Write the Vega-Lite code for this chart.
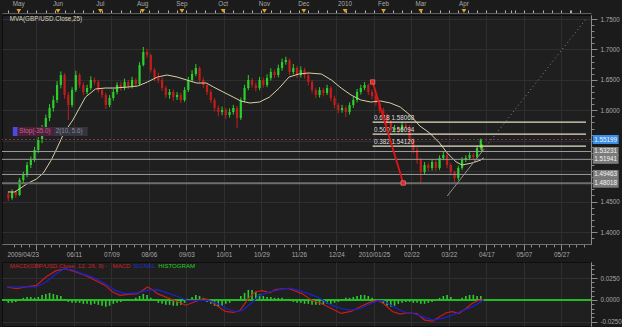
{
"$schema":"https://vega.github.io/schema/vega-lite/v6.json",
"background":"#1b1b1b",
"padding":0,
"spacing":3,
"resolve":{"scale":{"color":"independent"}},
"config":{
 "view":{"stroke":"#0d0d0d","fill":"#1f1f1f"},
 "axis":{"labelFont":"Liberation Sans","labelFontSize":6.3,"labelColor":"#a8a8a8","domainColor":"#7d7d7d","tickColor":"#8d8d8d","gridColor":"#2f2f2f","labelFlush":false,"tickCount":1000},
 "text":{"font":"Liberation Sans","fontSize":6.3}
},
"datasets":{
"candles":[
{"i":-15,"o":1.4620,"h":1.4665,"l":1.4510,"c":1.4559,"g":-0.0034},
{"i":-13,"o":1.4559,"h":1.4700,"l":1.4530,"c":1.4658,"g":-0.0034},
{"i":-11,"o":1.4658,"h":1.4690,"l":1.4560,"c":1.4608,"g":-0.0023},
{"i":-9,"o":1.4608,"h":1.4890,"l":1.4590,"c":1.4855,"g":0.0011},
{"i":-7,"o":1.4855,"h":1.4990,"l":1.4800,"c":1.4937,"g":0.0023},
{"i":-5,"o":1.4937,"h":1.5150,"l":1.4900,"c":1.5101,"g":0.0034},
{"i":-3,"o":1.5101,"h":1.5240,"l":1.5050,"c":1.5183,"g":0.0034},
{"i":-1,"o":1.5183,"h":1.5400,"l":1.5150,"c":1.5348,"g":0.0023},
{"i":1,"o":1.5348,"h":1.5560,"l":1.5300,"c":1.5512,"g":0.0034},
{"i":3,"o":1.5512,"h":1.5760,"l":1.5460,"c":1.5709,"g":0.0057},
{"i":5,"o":1.5709,"h":1.5930,"l":1.5650,"c":1.5873,"g":0.0068},
{"i":7,"o":1.5873,"h":1.6100,"l":1.5820,"c":1.6038,"g":0.0080},
{"i":9,"o":1.6038,"h":1.6240,"l":1.5980,"c":1.6169,"g":0.0068},
{"i":11,"o":1.6169,"h":1.6480,"l":1.6120,"c":1.6416,"g":0.0057},
{"i":13,"o":1.6416,"h":1.6640,"l":1.6360,"c":1.6580,"g":0.0045},
{"i":15,"o":1.6580,"h":1.6610,"l":1.6190,"c":1.6251,"g":0.0011},
{"i":17,"o":1.6251,"h":1.6300,"l":1.5840,"c":1.6087,"g":-0.0023},
{"i":19,"o":1.6087,"h":1.6380,"l":1.6050,"c":1.6333,"g":-0.0034},
{"i":21,"o":1.6333,"h":1.6650,"l":1.6300,"c":1.6580,"g":-0.0034},
{"i":23,"o":1.6580,"h":1.6610,"l":1.6370,"c":1.6416,"g":-0.0034},
{"i":25,"o":1.6416,"h":1.6460,"l":1.6250,"c":1.6301,"g":-0.0045},
{"i":27,"o":1.6301,"h":1.6420,"l":1.6260,"c":1.6366,"g":-0.0045},
{"i":29,"o":1.6366,"h":1.6560,"l":1.6330,"c":1.6498,"g":-0.0057},
{"i":31,"o":1.6498,"h":1.6540,"l":1.6420,"c":1.6465,"g":-0.0045},
{"i":33,"o":1.6465,"h":1.6500,"l":1.6290,"c":1.6333,"g":-0.0057},
{"i":35,"o":1.6333,"h":1.6370,"l":1.6200,"c":1.6251,"g":-0.0068},
{"i":37,"o":1.6251,"h":1.6290,"l":1.6020,"c":1.6087,"g":-0.0080},
{"i":39,"o":1.6087,"h":1.6250,"l":1.6050,"c":1.6202,"g":-0.0068},
{"i":41,"o":1.6202,"h":1.6350,"l":1.6160,"c":1.6301,"g":-0.0045},
{"i":43,"o":1.6301,"h":1.6460,"l":1.6260,"c":1.6416,"g":-0.0034},
{"i":45,"o":1.6416,"h":1.6470,"l":1.6320,"c":1.6366,"g":-0.0023},
{"i":47,"o":1.6366,"h":1.6520,"l":1.6330,"c":1.6465,"g":-0.0011},
{"i":49,"o":1.6465,"h":1.6500,"l":1.6350,"c":1.6399,"g":-0.0011},
{"i":51,"o":1.6399,"h":1.6550,"l":1.6360,"c":1.6498,"g":0.0006},
{"i":53,"o":1.6498,"h":1.6530,"l":1.6390,"c":1.6432,"g":0.0023},
{"i":55,"o":1.6432,"h":1.6790,"l":1.6410,"c":1.6744,"g":0.0045},
{"i":57,"o":1.6744,"h":1.7040,"l":1.6720,"c":1.6958,"g":0.0068},
{"i":59,"o":1.6958,"h":1.7010,"l":1.6860,"c":1.6908,"g":0.0057},
{"i":61,"o":1.6908,"h":1.6930,"l":1.6620,"c":1.6662,"g":0.0023},
{"i":63,"o":1.6662,"h":1.6700,"l":1.6480,"c":1.6531,"g":-0.0011},
{"i":65,"o":1.6531,"h":1.6620,"l":1.6450,"c":1.6498,"g":-0.0034},
{"i":67,"o":1.6498,"h":1.6540,"l":1.6320,"c":1.6366,"g":-0.0045},
{"i":69,"o":1.6366,"h":1.6400,"l":1.6200,"c":1.6251,"g":-0.0057},
{"i":71,"o":1.6251,"h":1.6350,"l":1.6190,"c":1.6301,"g":-0.0057},
{"i":73,"o":1.6301,"h":1.6340,"l":1.6150,"c":1.6218,"g":-0.0068},
{"i":75,"o":1.6218,"h":1.6300,"l":1.6170,"c":1.6251,"g":-0.0068},
{"i":77,"o":1.6251,"h":1.6290,"l":1.6120,"c":1.6169,"g":-0.0057},
{"i":79,"o":1.6169,"h":1.6380,"l":1.6140,"c":1.6333,"g":-0.0034},
{"i":81,"o":1.6333,"h":1.6550,"l":1.6300,"c":1.6498,"g":0.0011},
{"i":83,"o":1.6498,"h":1.6660,"l":1.6460,"c":1.6596,"g":0.0034},
{"i":85,"o":1.6596,"h":1.6760,"l":1.6560,"c":1.6695,"g":0.0057},
{"i":87,"o":1.6695,"h":1.6720,"l":1.6460,"c":1.6498,"g":0.0045},
{"i":89,"o":1.6498,"h":1.6540,"l":1.6370,"c":1.6416,"g":0.0023},
{"i":91,"o":1.6416,"h":1.6450,"l":1.6250,"c":1.6301,"g":-0.0023},
{"i":93,"o":1.6301,"h":1.6340,"l":1.6120,"c":1.6169,"g":-0.0045},
{"i":95,"o":1.6169,"h":1.6200,"l":1.5980,"c":1.6038,"g":-0.0068},
{"i":97,"o":1.6038,"h":1.6080,"l":1.5900,"c":1.5972,"g":-0.0080},
{"i":99,"o":1.5972,"h":1.6060,"l":1.5920,"c":1.6005,"g":-0.0068},
{"i":101,"o":1.6005,"h":1.6040,"l":1.5860,"c":1.5923,"g":-0.0045},
{"i":103,"o":1.5923,"h":1.6030,"l":1.5880,"c":1.5972,"g":-0.0034},
{"i":105,"o":1.5972,"h":1.6090,"l":1.5930,"c":1.6038,"g":-0.0011},
{"i":107,"o":1.6038,"h":1.6070,"l":1.5710,"c":1.5873,"g":0.0011},
{"i":109,"o":1.5873,"h":1.6210,"l":1.5840,"c":1.6169,"g":0.0045},
{"i":111,"o":1.6169,"h":1.6420,"l":1.6130,"c":1.6366,"g":0.0080},
{"i":113,"o":1.6366,"h":1.6580,"l":1.6330,"c":1.6498,"g":0.0114},
{"i":115,"o":1.6498,"h":1.6530,"l":1.6370,"c":1.6416,"g":0.0114},
{"i":117,"o":1.6416,"h":1.6460,"l":1.6310,"c":1.6366,"g":0.0091},
{"i":119,"o":1.6366,"h":1.6550,"l":1.6330,"c":1.6498,"g":0.0068},
{"i":121,"o":1.6498,"h":1.6540,"l":1.6370,"c":1.6416,"g":0.0045},
{"i":123,"o":1.6416,"h":1.6590,"l":1.6380,"c":1.6531,"g":0.0034},
{"i":125,"o":1.6531,"h":1.6690,"l":1.6490,"c":1.6629,"g":0.0034},
{"i":127,"o":1.6629,"h":1.6670,"l":1.6530,"c":1.6580,"g":0.0023},
{"i":129,"o":1.6580,"h":1.6750,"l":1.6540,"c":1.6695,"g":0.0023},
{"i":131,"o":1.6695,"h":1.6850,"l":1.6650,"c":1.6793,"g":0.0023},
{"i":133,"o":1.6793,"h":1.6880,"l":1.6750,"c":1.6826,"g":0.0011},
{"i":135,"o":1.6826,"h":1.6850,"l":1.6580,"c":1.6629,"g":-0.0011},
{"i":137,"o":1.6629,"h":1.6760,"l":1.6590,"c":1.6695,"g":-0.0023},
{"i":139,"o":1.6695,"h":1.6730,"l":1.6530,"c":1.6580,"g":-0.0034},
{"i":141,"o":1.6580,"h":1.6720,"l":1.6540,"c":1.6662,"g":-0.0034},
{"i":143,"o":1.6662,"h":1.6700,"l":1.6520,"c":1.6580,"g":-0.0045},
{"i":145,"o":1.6580,"h":1.6620,"l":1.6410,"c":1.6465,"g":-0.0045},
{"i":147,"o":1.6465,"h":1.6500,"l":1.6280,"c":1.6333,"g":-0.0057},
{"i":149,"o":1.6333,"h":1.6370,"l":1.6200,"c":1.6251,"g":-0.0057},
{"i":151,"o":1.6251,"h":1.6380,"l":1.6210,"c":1.6333,"g":-0.0057},
{"i":153,"o":1.6333,"h":1.6370,"l":1.6230,"c":1.6284,"g":-0.0057},
{"i":155,"o":1.6284,"h":1.6420,"l":1.6250,"c":1.6366,"g":-0.0045},
{"i":157,"o":1.6366,"h":1.6400,"l":1.6150,"c":1.6202,"g":-0.0045},
{"i":159,"o":1.6202,"h":1.6240,"l":1.6030,"c":1.6087,"g":-0.0034},
{"i":161,"o":1.6087,"h":1.6120,"l":1.5950,"c":1.6005,"g":-0.0023},
{"i":163,"o":1.6005,"h":1.6090,"l":1.5960,"c":1.6038,"g":0.0011},
{"i":165,"o":1.6038,"h":1.6070,"l":1.5890,"c":1.5972,"g":0.0023},
{"i":167,"o":1.5972,"h":1.6130,"l":1.5930,"c":1.6087,"g":0.0023},
{"i":169,"o":1.6087,"h":1.6220,"l":1.6040,"c":1.6169,"g":0.0034},
{"i":171,"o":1.6169,"h":1.6350,"l":1.6130,"c":1.6301,"g":0.0045},
{"i":173,"o":1.6301,"h":1.6420,"l":1.6260,"c":1.6366,"g":0.0057},
{"i":175,"o":1.6366,"h":1.6465,"l":1.6330,"c":1.6416,"g":0.0057},
{"i":177,"o":1.6416,"h":1.6440,"l":1.6250,"c":1.6301,"g":0.0045},
{"i":179,"o":1.6301,"h":1.6340,"l":1.6180,"c":1.6235,"g":0.0023},
{"i":181,"o":1.6235,"h":1.6270,"l":1.6070,"c":1.6120,"g":0.0011},
{"i":183,"o":1.6120,"h":1.6150,"l":1.5950,"c":1.6005,"g":-0.0011},
{"i":185,"o":1.6005,"h":1.6040,"l":1.5870,"c":1.5923,"g":-0.0045},
{"i":187,"o":1.5923,"h":1.5950,"l":1.5760,"c":1.5808,"g":-0.0068},
{"i":189,"o":1.5808,"h":1.5840,"l":1.5620,"c":1.5676,"g":-0.0080},
{"i":191,"o":1.5676,"h":1.5760,"l":1.5640,"c":1.5709,"g":-0.0068},
{"i":193,"o":1.5709,"h":1.5740,"l":1.5630,"c":1.5676,"g":-0.0045},
{"i":195,"o":1.5676,"h":1.5810,"l":1.5640,"c":1.5758,"g":-0.0034},
{"i":197,"o":1.5758,"h":1.5790,"l":1.5680,"c":1.5725,"g":-0.0023},
{"i":199,"o":1.5725,"h":1.5760,"l":1.5460,"c":1.5512,"g":-0.0023},
{"i":201,"o":1.5512,"h":1.5550,"l":1.5290,"c":1.5348,"g":-0.0034},
{"i":203,"o":1.5348,"h":1.5390,"l":1.5120,"c":1.5183,"g":-0.0034},
{"i":205,"o":1.5183,"h":1.5220,"l":1.4802,"c":1.4986,"g":-0.0045},
{"i":207,"o":1.4986,"h":1.5150,"l":1.4940,"c":1.5101,"g":-0.0045},
{"i":209,"o":1.5101,"h":1.5140,"l":1.5000,"c":1.5052,"g":-0.0034},
{"i":211,"o":1.5052,"h":1.5200,"l":1.5010,"c":1.5150,"g":-0.0023},
{"i":213,"o":1.5150,"h":1.5180,"l":1.5000,"c":1.5052,"g":-0.0011},
{"i":215,"o":1.5052,"h":1.5260,"l":1.5020,"c":1.5216,"g":0.0023},
{"i":217,"o":1.5216,"h":1.5320,"l":1.5180,"c":1.5265,"g":0.0045},
{"i":219,"o":1.5265,"h":1.5290,"l":1.5050,"c":1.5101,"g":0.0057},
{"i":221,"o":1.5101,"h":1.5130,"l":1.4930,"c":1.4986,"g":0.0034},
{"i":223,"o":1.4986,"h":1.5010,"l":1.4810,"c":1.4887,"g":0.0011},
{"i":225,"o":1.4887,"h":1.5090,"l":1.4850,"c":1.5052,"g":-0.0011},
{"i":227,"o":1.5052,"h":1.5230,"l":1.5020,"c":1.5183,"g":0.0023},
{"i":229,"o":1.5183,"h":1.5260,"l":1.5150,"c":1.5216,"g":0.0045},
{"i":231,"o":1.5216,"h":1.5310,"l":1.5180,"c":1.5265,"g":0.0057},
{"i":233,"o":1.5265,"h":1.5300,"l":1.5190,"c":1.5233,"g":0.0057},
{"i":235,"o":1.5233,"h":1.5420,"l":1.5210,"c":1.5380,"g":0.0045},
{"i":237,"o":1.5380,"h":1.5535,"l":1.5350,"c":1.5520,"g":0.0045}
],
"mva":[
{"i":-15.2,"m":1.4658},{"i":-11.5,"m":1.4658},{"i":-5.2,"m":1.4789},{"i":0,"m":1.4871},{"i":3.7,"m":1.4970},{"i":7.9,"m":1.5183},{"i":10.5,"m":1.5348},{"i":14.7,"m":1.5627},{"i":19.4,"m":1.5840},{"i":26.2,"m":1.6218},{"i":31.5,"m":1.6350},{"i":36.7,"m":1.6366},{"i":41.9,"m":1.6366},{"i":48.8,"m":1.6383},{"i":54,"m":1.6399},{"i":59.2,"m":1.6465},{"i":64.5,"m":1.6547},{"i":69.7,"m":1.6580},{"i":75,"m":1.6547},{"i":80.2,"m":1.6498},{"i":85.5,"m":1.6448},{"i":90.7,"m":1.6448},{"i":94.4,"m":1.6383},{"i":99.6,"m":1.6301},{"i":104.9,"m":1.6218},{"i":109,"m":1.6153},{"i":113.8,"m":1.6120},{"i":119,"m":1.6136},{"i":124.3,"m":1.6218},{"i":129.5,"m":1.6366},{"i":134.7,"m":1.6547},{"i":140,"m":1.6596},{"i":145.2,"m":1.6613},{"i":152,"m":1.6596},{"i":157.3,"m":1.6498},{"i":162.5,"m":1.6366},{"i":167.8,"m":1.6251},{"i":173,"m":1.6169},{"i":178.3,"m":1.6136},{"i":183.5,"m":1.6153},{"i":188.7,"m":1.6120},{"i":194,"m":1.6054},{"i":199.2,"m":1.5923},{"i":204.5,"m":1.5742},{"i":209.7,"m":1.5627},{"i":215,"m":1.5463},{"i":219.1,"m":1.5298},{"i":223.9,"m":1.5150},{"i":227,"m":1.5101},{"i":232.3,"m":1.5134},{"i":237,"m":1.5183},{"i":238.5,"m":1.5216}
],
"macd":[
{"i":-15.7,"v":0.0148,"k":"MACD"},{"i":-10.5,"v":0.0128,"k":"MACD"},{"i":-5.2,"v":0.0151,"k":"MACD"},{"i":0,"v":0.0166,"k":"MACD"},{"i":5.2,"v":0.0265,"k":"MACD"},{"i":10.5,"v":0.0336,"k":"MACD"},{"i":15.7,"v":0.0356,"k":"MACD"},{"i":21,"v":0.0322,"k":"MACD"},{"i":26.2,"v":0.0280,"k":"MACD"},{"i":31.5,"v":0.0223,"k":"MACD"},{"i":36.7,"v":0.0166,"k":"MACD"},{"i":40.4,"v":0.0094,"k":"MACD"},{"i":44.6,"v":0.0052,"k":"MACD"},{"i":48.8,"v":0.0064,"k":"MACD"},{"i":54,"v":0.0072,"k":"MACD"},{"i":56.6,"v":0.0109,"k":"MACD"},{"i":59.2,"v":0.0148,"k":"MACD"},{"i":61.9,"v":0.0117,"k":"MACD"},{"i":64.5,"v":0.0072,"k":"MACD"},{"i":69.7,"v":0.0026,"k":"MACD"},{"i":75,"v":-0.0019,"k":"MACD"},{"i":79.7,"v":-0.0061,"k":"MACD"},{"i":84.9,"v":-0.0019,"k":"MACD"},{"i":89.1,"v":0.0015,"k":"MACD"},{"i":91.7,"v":0.0003,"k":"MACD"},{"i":95.9,"v":-0.0061,"k":"MACD"},{"i":100.7,"v":-0.0133,"k":"MACD"},{"i":104.9,"v":-0.0144,"k":"MACD"},{"i":108.5,"v":-0.0122,"k":"MACD"},{"i":111.1,"v":-0.0042,"k":"MACD"},{"i":113.8,"v":0.0034,"k":"MACD"},{"i":116.9,"v":0.0094,"k":"MACD"},{"i":120.6,"v":0.0106,"k":"MACD"},{"i":124.3,"v":0.0080,"k":"MACD"},{"i":127.4,"v":0.0117,"k":"MACD"},{"i":131.1,"v":0.0128,"k":"MACD"},{"i":134.7,"v":0.0128,"k":"MACD"},{"i":137.9,"v":0.0102,"k":"MACD"},{"i":141.6,"v":0.0072,"k":"MACD"},{"i":146.8,"v":-0.0005,"k":"MACD"},{"i":152,"v":-0.0042,"k":"MACD"},{"i":157.3,"v":-0.0099,"k":"MACD"},{"i":162.5,"v":-0.0156,"k":"MACD"},{"i":167.8,"v":-0.0133,"k":"MACD"},{"i":173,"v":-0.0076,"k":"MACD"},{"i":178.3,"v":-0.0023,"k":"MACD"},{"i":181.9,"v":-0.0005,"k":"MACD"},{"i":185.1,"v":-0.0042,"k":"MACD"},{"i":189.8,"v":-0.0133,"k":"MACD"},{"i":194,"v":-0.0164,"k":"MACD"},{"i":197.7,"v":-0.0148,"k":"MACD"},{"i":202.9,"v":-0.0156,"k":"MACD"},{"i":207.1,"v":-0.0232,"k":"MACD"},{"i":211.3,"v":-0.0243,"k":"MACD"},{"i":215,"v":-0.0193,"k":"MACD"},{"i":218.6,"v":-0.0148,"k":"MACD"},{"i":221.8,"v":-0.0136,"k":"MACD"},{"i":225.4,"v":-0.0156,"k":"MACD"},{"i":229.1,"v":-0.0099,"k":"MACD"},{"i":232.3,"v":-0.0042,"k":"MACD"},{"i":235.9,"v":-0.0005,"k":"MACD"},{"i":238.5,"v":0.0007,"k":"MACD"},
{"i":-15.7,"v":0.0148,"k":"SIGNAL"},{"i":-5.2,"v":0.0151,"k":"SIGNAL"},{"i":0,"v":0.0148,"k":"SIGNAL"},{"i":5.2,"v":0.0205,"k":"SIGNAL"},{"i":10.5,"v":0.0299,"k":"SIGNAL"},{"i":14.7,"v":0.0356,"k":"SIGNAL"},{"i":19.4,"v":0.0344,"k":"SIGNAL"},{"i":24.6,"v":0.0299,"k":"SIGNAL"},{"i":29.9,"v":0.0261,"k":"SIGNAL"},{"i":36.7,"v":0.0185,"k":"SIGNAL"},{"i":41.9,"v":0.0109,"k":"SIGNAL"},{"i":47.2,"v":0.0072,"k":"SIGNAL"},{"i":54,"v":0.0080,"k":"SIGNAL"},{"i":59.2,"v":0.0109,"k":"SIGNAL"},{"i":64.5,"v":0.0117,"k":"SIGNAL"},{"i":69.7,"v":0.0080,"k":"SIGNAL"},{"i":75,"v":0.0041,"k":"SIGNAL"},{"i":80.2,"v":-0.0005,"k":"SIGNAL"},{"i":85.5,"v":-0.0005,"k":"SIGNAL"},{"i":90.7,"v":-0.0005,"k":"SIGNAL"},{"i":95.9,"v":-0.0034,"k":"SIGNAL"},{"i":101.2,"v":-0.0099,"k":"SIGNAL"},{"i":106.4,"v":-0.0136,"k":"SIGNAL"},{"i":110.1,"v":-0.0118,"k":"SIGNAL"},{"i":114.3,"v":-0.0042,"k":"SIGNAL"},{"i":119,"v":0.0052,"k":"SIGNAL"},{"i":124.3,"v":0.0091,"k":"SIGNAL"},{"i":129.5,"v":0.0117,"k":"SIGNAL"},{"i":134.7,"v":0.0136,"k":"SIGNAL"},{"i":140,"v":0.0109,"k":"SIGNAL"},{"i":145.2,"v":0.0072,"k":"SIGNAL"},{"i":150.5,"v":0.0026,"k":"SIGNAL"},{"i":157.3,"v":-0.0061,"k":"SIGNAL"},{"i":162.5,"v":-0.0099,"k":"SIGNAL"},{"i":167.8,"v":-0.0118,"k":"SIGNAL"},{"i":173,"v":-0.0099,"k":"SIGNAL"},{"i":178.3,"v":-0.0042,"k":"SIGNAL"},{"i":181.9,"v":-0.0011,"k":"SIGNAL"},{"i":185.1,"v":-0.0011,"k":"SIGNAL"},{"i":190.3,"v":-0.0080,"k":"SIGNAL"},{"i":195.6,"v":-0.0136,"k":"SIGNAL"},{"i":200.8,"v":-0.0156,"k":"SIGNAL"},{"i":206,"v":-0.0193,"k":"SIGNAL"},{"i":211.3,"v":-0.0232,"k":"SIGNAL"},{"i":216.5,"v":-0.0213,"k":"SIGNAL"},{"i":221.8,"v":-0.0175,"k":"SIGNAL"},{"i":227,"v":-0.0125,"k":"SIGNAL"},{"i":232.3,"v":-0.0080,"k":"SIGNAL"},{"i":237,"v":-0.0023,"k":"SIGNAL"},{"i":238.5,"v":0.0003,"k":"SIGNAL"}
],
"months":[
{"i":-9.4,"lab":"May"},{"i":11.5,"lab":"Jun"},{"i":34.1,"lab":"Jul"},{"i":56.6,"lab":"Aug"},{"i":77.6,"lab":"Sep"},{"i":99.6,"lab":"Oct"},{"i":121.6,"lab":"Nov"},{"i":142.6,"lab":"Dec"},{"i":164.6,"lab":"2010"},{"i":185.1,"lab":"Feb"},{"i":205,"lab":"Mar"},{"i":228,"lab":"Apr"}
],
"fib":[
{"p":1.58068,"lab":"0.618 1.58068"},{"p":1.56094,"lab":"0.500 1.56094"},{"p":1.54120,"lab":"0.382 1.54120"}
],
"boxes":[
{"p":1.55199,"lab":"1.55199","k":"cur"},{"p":1.53231,"lab":"1.53231","k":"lvl"},{"p":1.51941,"lab":"1.51941","k":"lvl"},{"p":1.49463,"lab":"1.49463","k":"lvl"},{"p":1.48018,"lab":"1.48018","k":"lvl"}
]
},
"vconcat":[
{
 "width":589,"height":229,
 "resolve":{"axis":{"x":"independent","y":"independent"}},
 "layer":[
  {"layer":[
   {"data":{"name":"candles"},"mark":{"type":"rule","strokeWidth":1},
    "encoding":{
     "x":{"field":"i","type":"quantitative","scale":{"domain":[-15.7,293.1],"nice":false,"zero":false},
      "axis":{"orient":"bottom","title":null,"grid":true,"tickSize":6,"labelPadding":1,"tickCount":1000,
       "labelAlign":{"condition":{"test":"datum.value == 0","value":"right"},"value":"center"},
       "labelOffset":{"condition":{"test":"datum.value == 0","value":2},"value":0},
       "domainColor":"#6f6f6f","tickColor":"#8a8a8a",
       "values":[0,20,40,60,80,100,120,140,160,180,200,220,240,260,280],
       "labelExpr":"['2009/04/23','06/11','07/09','08/06','09/03','10/01','10/29','11/26','12/24','2010/01/25','02/22','03/22','04/17','05/07','05/27'][round(datum.value/20)]"}},
     "y":{"field":"l","type":"quantitative","scale":{"domain":[1.3803,1.7566],"nice":false,"zero":false},
      "axis":{"orient":"right","title":null,"grid":true,"tickSize":6,"labelPadding":3,"domainColor":"#8a8a8a","tickColor":"#8a8a8a","tickCount":1000,"labelOverlap":false,
       "values":[1.4,1.45,1.5,1.55,1.6,1.65,1.7,1.75],
       "labelExpr":"abs(datum.value-1.5)>0.001 && abs(datum.value-1.55)>0.001 ? format(datum.value,'.4f') : ''"}},
     "y2":{"field":"h"},
     "color":{"condition":{"test":"datum.c >= datum.o","value":"#2bcf2b"},"value":"#c21c1c"}}},
   {"data":{"name":"candles"},"mark":{"type":"bar","width":2.2},
    "encoding":{"x":{"field":"i","type":"quantitative"},"y":{"field":"o","type":"quantitative"},"y2":{"field":"c"},
     "color":{"condition":{"test":"datum.c >= datum.o","value":"#2bcf2b"},"value":"#c21c1c"}}},
   {"data":{"name":"mva"},"mark":{"type":"line","color":"#d8d0a4","strokeWidth":1},
    "encoding":{"x":{"field":"i","type":"quantitative"},"y":{"field":"m","type":"quantitative"}}},
   {"data":{"values":[{"p":1.53231},{"p":1.51941},{"p":1.49463}]},"mark":{"type":"rule","color":"#9c9c9c","strokeWidth":1},
    "encoding":{"y":{"field":"p","type":"quantitative"}}},
   {"data":{"values":[{"p":1.48018}]},"mark":{"type":"rule","color":"#6e6e6e","strokeWidth":2},
    "encoding":{"y":{"field":"p","type":"quantitative"}}},
   {"data":{"values":[{"p":1.55199}]},"mark":{"type":"rule","color":"#7c3a52","strokeWidth":1,"strokeDash":[2,2]},
    "encoding":{"y":{"field":"p","type":"quantitative"}}},
   {"data":{"name":"fib"},"mark":{"type":"rule","color":"#e4e0c4","strokeWidth":1.2},
    "encoding":{"x":{"datum":179.3},"x2":{"datum":293.1},"y":{"field":"p","type":"quantitative"}}},
   {"data":{"name":"fib"},"mark":{"type":"text","align":"left","baseline":"alphabetic","dy":-2.5,"color":"#dedede"},
    "encoding":{"x":{"datum":180},"y":{"field":"p","type":"quantitative"},"text":{"field":"lab"}}},
   {"data":{"values":[{"i":179.3,"p":1.6465},{"i":195.6,"p":1.4805}]},"mark":{"type":"line","color":"#e01414","strokeWidth":1.8},
    "encoding":{"x":{"field":"i","type":"quantitative"},"y":{"field":"p","type":"quantitative"}}},
   {"data":{"values":[{"i":219.1,"p":1.4592},{"i":238.5,"p":1.5354}]},"mark":{"type":"line","color":"#8f8f8f","strokeWidth":1},
    "encoding":{"x":{"field":"i","type":"quantitative"},"y":{"field":"p","type":"quantitative"}}},
   {"data":{"values":[{"i":238.5,"p":1.5354},{"i":293.1,"p":1.75}]},"mark":{"type":"line","color":"#8a8a8a","strokeWidth":1,"strokeDash":[1,3]},
    "encoding":{"x":{"field":"i","type":"quantitative"},"y":{"field":"p","type":"quantitative"}}},
   {"data":{"values":[{"i":237.6,"p":1.5385}]},"mark":{"type":"point","shape":"arrow","filled":true,"size":60,"color":"#a6e03c","opacity":1},
    "encoding":{"x":{"field":"i","type":"quantitative"},"y":{"field":"p","type":"quantitative"}}},
   {"data":{"values":[{"t":"MVA(GBP/USD.Close,25)"}]},"mark":{"type":"text","align":"left","baseline":"middle","color":"#dcd8c2"},
    "encoding":{"x":{"datum":-14.2},"y":{"datum":1.75},"text":{"field":"t"}}},
   {"data":{"values":[{}]},"mark":{"type":"rect","color":"#4b4be0","yOffset":-4.5,"y2Offset":4.5},
    "encoding":{"x":{"datum":-12.6},"x2":{"datum":-10.0},"y":{"datum":1.5652},"y2":{"datum":1.5652}}},
   {"data":{"values":[{}]},"mark":{"type":"rect","color":"#4e1f3c","yOffset":-4.5,"y2Offset":4.5},
    "encoding":{"x":{"datum":-10.0},"x2":{"datum":9.4},"y":{"datum":1.5652},"y2":{"datum":1.5652}}},
   {"data":{"values":[{}]},"mark":{"type":"rect","color":"#35353f","yOffset":-4.5,"y2Offset":4.5},
    "encoding":{"x":{"datum":9.4},"x2":{"datum":27.3},"y":{"datum":1.5652},"y2":{"datum":1.5652}}},
   {"data":{"values":[{"t":"Stop(-35.0)"}]},"mark":{"type":"text","align":"left","baseline":"middle","color":"#c06688"},
    "encoding":{"x":{"datum":-9.2},"y":{"datum":1.5652},"text":{"field":"t"}}},
   {"data":{"values":[{"t":"2(10, 5.6)"}]},"mark":{"type":"text","align":"left","baseline":"middle","color":"#8a8a9c"},
    "encoding":{"x":{"datum":10.3},"y":{"datum":1.5652},"text":{"field":"t"}}},
   {"data":{"name":"boxes"},"mark":{"type":"rect","yOffset":-4.5,"y2Offset":4.5},
    "encoding":{"x":{"datum":296.7},"x2":{"datum":310.5},"y":{"field":"p","type":"quantitative"},"y2":{"field":"p"},
     "color":{"field":"k","type":"nominal","scale":{"domain":["cur","lvl"],"range":["#3a8ee6","#7b7b7b"]},"legend":null}}},
   {"data":{"name":"boxes"},"mark":{"type":"text","align":"left","baseline":"middle","color":"#f4f4f4"},
    "encoding":{"x":{"datum":297.5},"y":{"field":"p","type":"quantitative"},"text":{"field":"lab"}}}
  ]},
  {"data":{"name":"months"},"layer":[
   {"mark":{"type":"point","shape":"triangle-down","filled":true,"size":22,"color":"#e3a21f","opacity":1},
    "encoding":{"x":{"field":"i","type":"quantitative",
      "axis":{"orient":"top","offset":2,"labels":false,"grid":false,"title":null,"tickColor":"#b5b5b5","domainColor":"#5c5c5c","tickSize":3,"tickCount":1000,
       "values":[-15,-10,-5,0,5,10,15,20,25,30,35,40,45,50,55,60,65,70,75,80,85,90,95,100,105,110,115,120,125,130,135,140,145,150,155,160,165,170,175,180,185,190,195,200,205,210,215,220,225,230,235,240,245,250,255,260,265,270,275,280,285,290,253.2,284.7]}},
     "y":{"datum":1.7632,"axis":null}}},
   {"mark":{"type":"text","align":"center","baseline":"middle","color":"#a8a8a8"},
    "encoding":{"x":{"field":"i","type":"quantitative"},"y":{"datum":1.7747,"axis":null},"text":{"field":"lab"}}}
  ]},
  {"data":{"values":[{"i":179.3,"p":1.6465},{"i":195.6,"p":1.4805}]},"mark":{"type":"point","shape":"square","filled":true,"size":20,"color":"#e02828","opacity":1,"stroke":"#ff9a9a","strokeWidth":0.5},
   "encoding":{
    "x":{"field":"i","type":"quantitative","axis":{"orient":"bottom","title":null,"labels":false,"grid":false,"tickSize":3,"domainColor":"#6f6f6f","tickColor":"#8a8a8a","tickCount":1000,
      "values":[-12,-8,-4,4,8,12,16,24,28,32,36,44,48,52,56,64,68,72,76,84,88,92,96,104,108,112,116,124,128,132,136,144,148,152,156,164,168,172,176,184,188,192,196,204,208,212,216,224,228,232,236,244,248,252,256,264,268,272,276,284,288,292]}},
    "y":{"field":"p","type":"quantitative","axis":{"orient":"right","title":null,"labels":false,"grid":false,"tickSize":3,"domainColor":"#8a8a8a","tickColor":"#8a8a8a","tickCount":1000,
      "values":[1.39,1.41,1.42,1.43,1.44,1.46,1.47,1.48,1.49,1.51,1.52,1.53,1.54,1.56,1.57,1.58,1.59,1.61,1.62,1.63,1.64,1.66,1.67,1.68,1.69,1.71,1.72,1.73,1.74]}}}}
 ]
},
{
 "width":589,"height":64,
 "resolve":{"axis":{"y":"independent"}},
 "layer":[
  {"data":{"values":[{}]},"mark":{"type":"rule","color":"#22c422","strokeWidth":1.5},
   "encoding":{"y":{"datum":0,"axis":{"orient":"right","title":null,"labels":false,"grid":false,"tickSize":3,"domainColor":"#8a8a8a","tickColor":"#8a8a8a","tickCount":1000,
     "values":[-0.02,-0.015,-0.01,-0.005,0.005,0.01,0.015,0.02,0.03,0.035,0.04]}}}},
  {"layer":[
   {"data":{"name":"candles"},"mark":{"type":"bar","width":1.6,"color":"#34c834"},
    "encoding":{
     "x":{"field":"i","type":"quantitative","scale":{"domain":[-15.7,293.1],"nice":false,"zero":false},
      "axis":{"orient":"bottom","title":null,"labels":false,"ticks":false,"domain":false,"grid":true,"tickCount":1000,"values":[0,20,40,60,80,100,120,140,160,180,200,220,240,260,280]}},
     "y":{"field":"g","type":"quantitative","scale":{"domain":[-0.03,0.0435],"nice":false,"zero":false},
      "axis":{"orient":"right","title":null,"grid":true,"tickSize":6,"labelPadding":3,"domainColor":"#8a8a8a","tickColor":"#8a8a8a","tickCount":1000,"labelOverlap":false,
       "values":[-0.025,0,0.025],
       "labelExpr":"replace(format(datum.value,'.4f'),'\u2212','-')"}},
     "y2":{"datum":0}}},
   {"data":{"values":[{}]},"mark":{"type":"rule","color":"#22c422","strokeWidth":1.5},
    "encoding":{"y":{"datum":0}}},
   {"data":{"name":"macd"},"mark":{"type":"line","strokeWidth":1.2},
    "encoding":{"x":{"field":"i","type":"quantitative"},"y":{"field":"v","type":"quantitative"},
     "color":{"field":"k","type":"nominal","scale":{"domain":["MACD","SIGNAL"],"range":["#cc1a1a","#1a22d0"]},"legend":null}}},
   {"data":{"values":[{"t":"MACD(GBP/USD.Close, 12, 26, 9) -"}]},"mark":{"type":"text","align":"left","baseline":"middle","color":"#d02020","fontSize":6.1},
    "encoding":{"x":{"datum":-14.2},"y":{"datum":0.0386},"text":{"field":"t"}}},
   {"data":{"values":[{"t":"MACD"}]},"mark":{"type":"text","align":"left","baseline":"middle","color":"#d02020","fontSize":6.1},
    "encoding":{"x":{"datum":40.6},"y":{"datum":0.0386},"text":{"field":"t"}}},
   {"data":{"values":[{"t":"SIGNAL"}]},"mark":{"type":"text","align":"left","baseline":"middle","color":"#2030c8","fontSize":6.1},
    "encoding":{"x":{"datum":51.6},"y":{"datum":0.0386},"text":{"field":"t"}}},
   {"data":{"values":[{"t":"HISTOGRAM"}]},"mark":{"type":"text","align":"left","baseline":"middle","color":"#24d024","fontSize":6.1},
    "encoding":{"x":{"datum":65},"y":{"datum":0.0386},"text":{"field":"t"}}}
  ]}
 ]
}
]
}
